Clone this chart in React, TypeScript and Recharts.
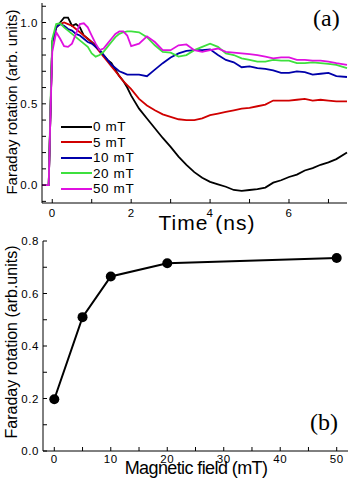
import { LineChart, Line, XAxis, YAxis, Legend } from "recharts";

// Panel (a): Faraday rotation transients for five magnetic fields
const TIME_NS = [
  -0.26, -0.09, -0.05, 0, 0.1, 0.2, 0.3, 0.4, 0.5, 0.6, 0.7, 0.8, 0.9, 1.0, 1.1, 1.2, 1.3, 1.4,
  1.5, 1.6, 1.7, 1.8, 1.9, 2.0, 2.2, 2.4, 2.6, 2.8, 3.0, 3.2, 3.4, 3.6, 3.8, 4.0, 4.2, 4.4, 4.6,
  4.8, 5.0, 5.2, 5.4, 5.6, 5.8, 6.0, 6.2, 6.4, 6.6, 6.8, 7.0, 7.2, 7.47,
];
const ROT_0MT = [
  0, 0, 0.4, 0.88, 0.97, 1.0, 1.03, 1.03, 0.98, 0.99, 0.97, 0.92, 0.9, 0.88, 0.86, 0.83, 0.8, 0.77,
  0.75, 0.71, 0.67, 0.64, 0.6, 0.55, 0.47, 0.41, 0.35, 0.29, 0.235, 0.175, 0.125, 0.08, 0.045, 0.02,
  0.005, -0.01, -0.03, -0.035, -0.03, -0.025, -0.015, 0.015, 0.03, 0.05, 0.065, 0.09, 0.105, 0.125,
  0.14, 0.16, 0.2,
];
const ROT_5MT = [
  0, 0, 0.4, 0.88, 0.97, 0.99, 1.0, 0.99, 0.98, 0.96, 0.94, 0.92, 0.9, 0.88, 0.85, 0.82, 0.79, 0.76,
  0.73, 0.7, 0.67, 0.64, 0.615, 0.59, 0.53, 0.49, 0.46, 0.435, 0.42, 0.405, 0.4, 0.4, 0.41, 0.43,
  0.44, 0.45, 0.46, 0.47, 0.475, 0.485, 0.495, 0.52, 0.52, 0.52, 0.525, 0.53, 0.52, 0.525, 0.52,
  0.515, 0.515,
];
const ROT_10MT = [
  0, 0, 0.4, 0.88, 0.97, 0.99, 0.98, 0.96, 0.95, 0.93, 0.92, 0.9, 0.88, 0.87, 0.85, 0.83, 0.8, 0.77,
  0.74, 0.72, 0.7, 0.69, 0.68, 0.68, 0.68, 0.67, 0.71, 0.75, 0.785, 0.81, 0.825, 0.83, 0.83, 0.835,
  0.8, 0.77, 0.755, 0.725, 0.73, 0.72, 0.715, 0.705, 0.69, 0.69, 0.7, 0.695, 0.68, 0.685, 0.69,
  0.67, 0.665,
];
const ROT_20MT = [
  0, 0, 0.45, 0.9, 0.99, 0.995, 0.97, 0.95, 0.93, 0.91, 0.89, 0.87, 0.85, 0.81, 0.79, 0.8, 0.82,
  0.85, 0.88, 0.91, 0.93, 0.94, 0.945, 0.945, 0.94, 0.91, 0.86, 0.82, 0.815, 0.79, 0.8, 0.83, 0.85,
  0.87, 0.85, 0.81, 0.8, 0.78, 0.77, 0.76, 0.76, 0.77, 0.765, 0.765, 0.75, 0.75, 0.755, 0.75, 0.745,
  0.74, 0.72,
];
const ROT_50MT = [
  0, 0, 0.4, 0.82, 0.94, 0.9, 0.855, 0.85, 0.87, 0.93, 0.99, 0.995, 0.97, 0.92, 0.87, 0.83, 0.84,
  0.87, 0.9, 0.93, 0.945, 0.945, 0.92, 0.855, 0.87, 0.915, 0.88, 0.83, 0.83, 0.86, 0.865, 0.83,
  0.82, 0.83, 0.84, 0.82, 0.815, 0.81, 0.805, 0.8, 0.79, 0.78, 0.785, 0.785, 0.77, 0.77, 0.765,
  0.765, 0.76, 0.75, 0.74,
];

const SERIES = [
  { key: "b0", name: "0 mT", color: "#000000", values: ROT_0MT },
  { key: "b5", name: "5 mT", color: "#d00000", values: ROT_5MT },
  { key: "b10", name: "10 mT", color: "#0000aa", values: ROT_10MT },
  { key: "b20", name: "20 mT", color: "#3ee03e", values: ROT_20MT },
  { key: "b50", name: "50 mT", color: "#e010e0", values: ROT_50MT },
];

const TIME_TICKS = [0, 1, 2, 3, 4, 5, 6, 7];
const TIME_LABELS = [0, 2, 4, 6];
const ROT_TICKS_A = [-0.1, 0, 0.1, 0.2, 0.3, 0.4, 0.5, 0.6, 0.7, 0.8, 0.9, 1.0, 1.1];
const ROT_LABELS_A = [0, 0.5, 1.0];

// Panel (b): amplitude vs field
const FIELD_MT = [0, 5, 10, 20, 50];
const AMPLITUDE = [0.197, 0.51, 0.665, 0.715, 0.735];

const FIELD_TICKS = [0, 5, 10, 15, 20, 25, 30, 35, 40, 45, 50];
const FIELD_LABELS = [0, 10, 20, 30, 40, 50];
const ROT_TICKS_B = [0, 0.1, 0.2, 0.3, 0.4, 0.5, 0.6, 0.7, 0.8];
const ROT_LABELS_B = [0, 0.2, 0.4, 0.6, 0.8];

const SANS = "'Liberation Sans', Arial, sans-serif";
const SERIF = "'Liberation Serif', 'Times New Roman', serif";

const traceRows = TIME_NS.map((t, i) => {
  const row: Record<string, number> = { t };
  for (const s of SERIES) row[s.key] = s.values[i];
  return row;
});
const fieldRows = FIELD_MT.map((f, i) => ({ field: f, amp: AMPLITUDE[i] }));

const has = (list: number[], v: number) => list.some((l) => Math.abs(l - v) < 1e-9);

function makeTick(labels: number[], fmt: (v: number) => string, anchor: "middle" | "end") {
  return (props: any) => {
    const { x, y, payload } = props;
    if (!has(labels, payload.value)) return <g />;
    return (
      <text
        x={x}
        y={y}
        dy="0.36em"
        textAnchor={anchor}
        fontSize={11.5}
        fontFamily={SANS}
        letterSpacing={0.6}
        fill="#000"
      >
        {fmt(payload.value)}
      </text>
    );
  };
}

function yTitle(text: string, size: number, baseX: number, dy = 0) {
  return (props: any) => {
    const { y, height } = props.viewBox;
    const cx = baseX;
    const cy = y + height / 2 + dy;
    return (
      <text
        x={cx}
        y={cy}
        transform={`rotate(-90 ${cx} ${cy})`}
        textAnchor="middle"
        fontSize={size}
        fontFamily={SANS}
        fill="#000"
      >
        {text}
      </text>
    );
  };
}

function TraceLegend() {
  return (
    <div style={{ fontFamily: SANS, fontSize: 13.5, letterSpacing: 0.6 }}>
      {SERIES.map((s) => (
        <div key={s.key} style={{ display: "flex", alignItems: "center", height: 15.5 }}>
          <span style={{ display: "inline-block", width: 31, height: 2, background: s.color }} />
          <span style={{ marginLeft: 1, lineHeight: "15px", color: "#000" }}>{s.name}</span>
        </div>
      ))}
    </div>
  );
}

const axisStroke = { stroke: "#000", strokeWidth: 1 };

const titleStyle = (cx: number, top: number, size: number, spacing: number): React.CSSProperties => ({
  position: "absolute",
  left: cx,
  top,
  transform: "translateX(-50%)",
  whiteSpace: "nowrap",
  fontFamily: SANS,
  fontSize: size,
  lineHeight: `${size}px`,
  letterSpacing: spacing,
  color: "#000",
});

export default function App() {
  return (
    <div
      style={{
        position: "absolute",
        left: 0,
        top: 0,
        width: 351,
        height: 482,
        background: "#fff",
        fontFamily: SANS,
      }}
    >
      <div style={{ position: "absolute", left: 0, top: 0 }}>
        <LineChart width={351} height={240} data={traceRows} margin={{ top: 3, right: 4, bottom: 0, left: 0 }}>
          <XAxis
            dataKey="t"
            type="number"
            domain={[-0.26, 7.47]}
            ticks={TIME_TICKS}
            interval={0}
            height={37}
            tickSize={-4}
            tickMargin={14}
            axisLine={axisStroke}
            tickLine={axisStroke}
            tick={makeTick(TIME_LABELS, (v) => String(v), "middle")}
          />
          <XAxis xAxisId="top" orientation="top" type="number" domain={[0, 1]} height={0} tick={false} tickLine={false} axisLine={axisStroke} />
          <YAxis
            type="number"
            domain={[-0.11, 1.12]}
            ticks={ROT_TICKS_A}
            interval={0}
            width={42}
            tickSize={-4}
            tickMargin={8}
            axisLine={axisStroke}
            tickLine={axisStroke}
            tick={makeTick(ROT_LABELS_A, (v) => v.toFixed(1), "end")}
            label={{ content: yTitle("Faraday rotation (arb. units)", 15, 17, -1) }}
          />
          <YAxis yAxisId="right" orientation="right" type="number" domain={[0, 1]} width={0} tick={false} tickLine={false} axisLine={axisStroke} />
          {SERIES.map((s) => (
            <Line
              key={s.key}
              dataKey={s.key}
              name={s.name}
              type="linear"
              stroke={s.color}
              strokeWidth={1.8}
              dot={false}
              activeDot={false}
              isAnimationActive={false}
            />
          ))}
          <Legend
            layout="vertical"
            align="center"
            verticalAlign="middle"
            wrapperStyle={{ left: 61, top: 119, width: 110 }}
            content={TraceLegend}
          />
        </LineChart>
      </div>
      <div style={titleStyle(207, 212, 21, 1)}>Time (ns)</div>
      <div style={{ position: "absolute", left: 313, top: 4, fontFamily: SERIF, fontSize: 24, lineHeight: "28px" }}>(a)</div>

      <div style={{ position: "absolute", left: 0, top: 230 }}>
        <LineChart width={351} height={252} data={fieldRows} margin={{ top: 11, right: 3, bottom: 0, left: 0 }}>
          <XAxis
            dataKey="field"
            type="number"
            domain={[-2, 52]}
            ticks={FIELD_TICKS}
            interval={0}
            height={31}
            tickSize={-4}
            tickMargin={12}
            axisLine={axisStroke}
            tickLine={axisStroke}
            tick={makeTick(FIELD_LABELS, (v) => String(v), "middle")}
          />
          <XAxis xAxisId="top" orientation="top" type="number" domain={[0, 1]} height={0} tick={false} tickLine={false} axisLine={axisStroke} />
          <YAxis
            type="number"
            domain={[0, 0.8]}
            ticks={ROT_TICKS_B}
            interval={0}
            width={43}
            tickSize={-4}
            tickMargin={8}
            axisLine={axisStroke}
            tickLine={axisStroke}
            tick={makeTick(ROT_LABELS_B, (v) => v.toFixed(1), "end")}
            label={{ content: yTitle("Faraday rotation (arb.units)", 16, 17, -4) }}
          />
          <YAxis yAxisId="right" orientation="right" type="number" domain={[0, 1]} width={0} tick={false} tickLine={false} axisLine={axisStroke} />
          <Line
            dataKey="amp"
            type="linear"
            stroke="#000"
            strokeWidth={2}
            dot={{ r: 5, fill: "#000", stroke: "#000", strokeWidth: 0 }}
            activeDot={false}
            isAnimationActive={false}
          />
        </LineChart>
      </div>
      <div style={titleStyle(196, 459, 18, -0.6)}>Magnetic field (mT)</div>
      <div style={{ position: "absolute", left: 310, top: 408, fontFamily: SERIF, fontSize: 24, lineHeight: "28px" }}>(b)</div>
    </div>
  );
}
